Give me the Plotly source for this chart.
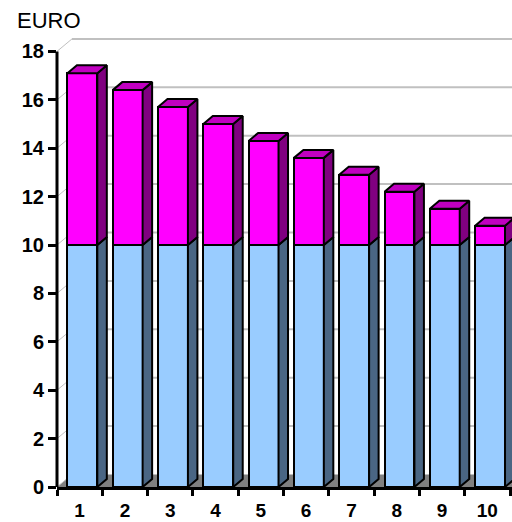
import plotly.graph_objects as go

# ---- data ----
categories = [1, 2, 3, 4, 5, 6, 7, 8, 9, 10]
base_values = [10, 10, 10, 10, 10, 10, 10, 10, 10, 10]
extra_values = [7.1, 6.4, 5.7, 5.0, 4.3, 3.6, 2.9, 2.2, 1.5, 0.8]
y_ticks = [0, 2, 4, 6, 8, 10, 12, 14, 16, 18]
unit_label = "EURO"

# ---- style / geometry ----
W, H = 512, 522
ML, MR, MT, MB = 57, 0, 37, 35
PX_CAT = 45.3
PX_VAL = 24.2
plot_w = W - ML - MR
plot_h = H - MT - MB
x_range = [0.5, 0.5 + plot_w / PX_CAT]
y_range = [0, plot_h / PX_VAL]

bar_offset = -0.27
bar_width = 0.66
bar_dx = 9.5 / PX_CAT
bar_dy = 8.0 / PX_VAL
wall_dx = 15.0 / PX_CAT
wall_dy = 12.5 / PX_VAL

blue_front = "#99ccff"
blue_side = "#4a6684"
mag_front = "#ff00ff"
mag_side = "#800080"
mag_top = "#c000c0"
floor_col = "#808080"
grid_col = "#c0c0c0"

fig = go.Figure()

# front faces (stacked bars)
fig.add_trace(go.Bar(x=categories, y=base_values, marker=dict(color=blue_front, line=dict(color="black", width=2)),
                     width=bar_width, offset=bar_offset, hoverinfo="skip"))
fig.add_trace(go.Bar(x=categories, y=extra_values, marker=dict(color=mag_front, line=dict(color="black", width=2)),
                     width=bar_width, offset=bar_offset, hoverinfo="skip"))


def side_polys(y0s, y1s):
    xs, ys = [], []
    for c, a, b in zip(categories, y0s, y1s):
        xr = c + bar_offset + bar_width
        xs += [xr, xr + bar_dx, xr + bar_dx, xr, xr, None]
        ys += [a, a + bar_dy, b + bar_dy, b, a, None]
    return xs, ys


tops = [b + e for b, e in zip(base_values, extra_values)]
bx, by = side_polys([0] * len(categories), base_values)
mx, my = side_polys(base_values, tops)
tx, ty = [], []
for c, t in zip(categories, tops):
    xl = c + bar_offset
    xr = xl + bar_width
    tx += [xl, xr, xr + bar_dx, xl + bar_dx, xl, None]
    ty += [t, t, t + bar_dy, t + bar_dy, t, None]

for xs, ys, col in [(bx, by, blue_side), (mx, my, mag_side), (tx, ty, mag_top)]:
    fig.add_trace(go.Scatter(x=xs, y=ys, mode="lines", fill="toself", fillcolor=col,
                             line=dict(color="black", width=2), hoverinfo="skip"))

shapes = []
# floor
xmax = x_range[1] + 1
shapes.append(dict(type="path", xref="x", yref="y", layer="below",
                   path=f"M {x_range[0]},0 L {xmax},0 L {xmax},{wall_dy} L {x_range[0] + wall_dx},{wall_dy} Z",
                   fillcolor=floor_col, line=dict(width=0)))
# back wall gridlines
for v in y_ticks:
    shapes.append(dict(type="line", xref="x", yref="y", layer="below",
                       x0=x_range[0], y0=v, x1=x_range[0] + wall_dx, y1=v + wall_dy,
                       line=dict(color=grid_col, width=1)))
    if v > 0:
        shapes.append(dict(type="line", xref="x", yref="y", layer="below",
                           x0=x_range[0] + wall_dx, y0=v + wall_dy, x1=xmax, y1=v + wall_dy,
                           line=dict(color=grid_col, width=2)))
# y axis line
shapes.append(dict(type="line", xref="paper", yref="y", layer="above",
                   x0=0, x1=0, y0=0, y1=max(y_ticks), line=dict(color="black", width=3)))

fig.update_layout(
    width=W, height=H,
    margin=dict(l=ML, r=MR, t=MT, b=MB),
    barmode="stack",
    showlegend=False,
    plot_bgcolor="white", paper_bgcolor="white",
    shapes=shapes,
    font=dict(family="Liberation Sans, Arial, sans-serif", color="black"),
    xaxis=dict(range=x_range, tickvals=categories, ticktext=[f"<b>{c}</b>" for c in categories],
               ticks="outside", ticklen=4, tickcolor="rgba(0,0,0,0)", tickfont=dict(size=19),
               showline=True, linecolor="black", linewidth=3, showgrid=False, zeroline=False,
               automargin=False,
               minor=dict(tickvals=[c - 0.5 for c in categories] + [categories[-1] + 0.5],
                          ticks="outside", ticklen=6, tickwidth=3, tickcolor="black", showgrid=False)),
    yaxis=dict(range=y_range, tickvals=y_ticks, ticktext=[f"<b>{v}</b>" for v in y_ticks],
               ticks="outside", ticklen=8, tickwidth=3, tickcolor="black", tickfont=dict(size=20),
               showline=False, showgrid=False, zeroline=False, automargin=False),
    annotations=[dict(text=unit_label, xref="paper", yref="paper", x=(15 - ML) / plot_w,
                      y=1 + (MT - 6) / plot_h, xanchor="left", yanchor="top", showarrow=False,
                      font=dict(size=22, color="black"))],
)

fig.write_html("out.html", config={"displayModeBar": False},
               post_script="document.body.style.margin='0px';document.body.style.overflow='hidden';")
